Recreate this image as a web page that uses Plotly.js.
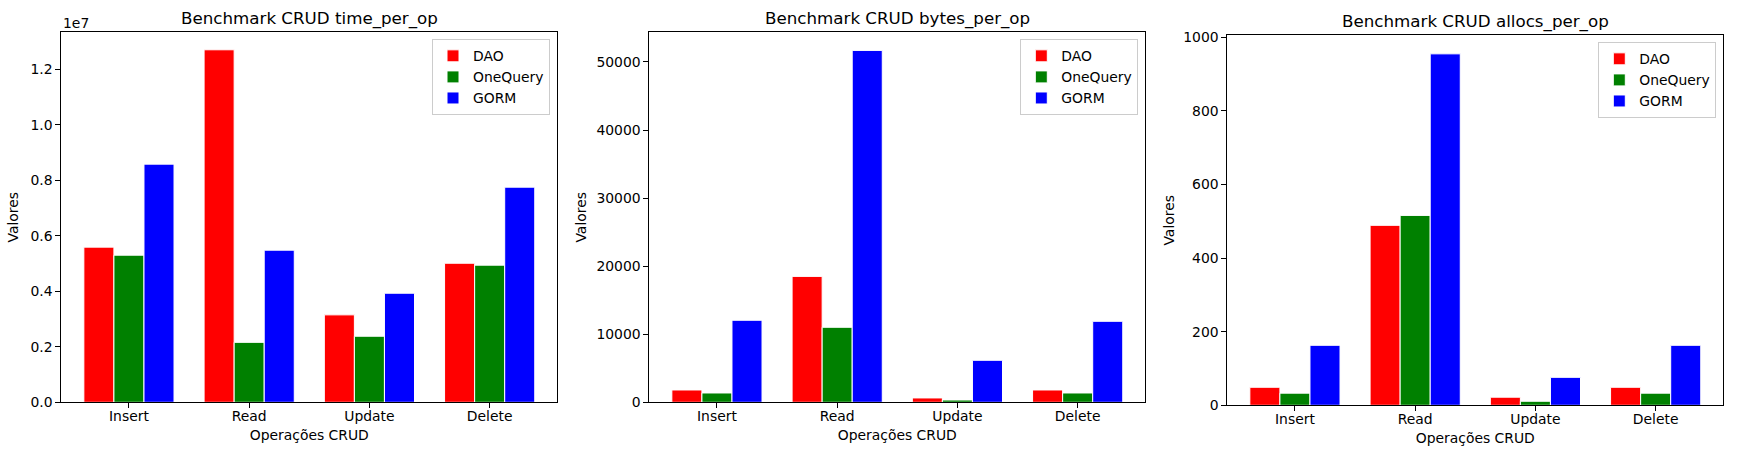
<!DOCTYPE html>
<html><head><meta charset="utf-8">
<script src="https://cdn.plot.ly/plotly-3.0.1.min.js"></script>
<style>body{margin:0;background:#fff}</style>
</head><body><div id="chart" style="width:1748px;height:454px"></div>
<script>
const operations = ["Insert", "Read", "Update", "Delete"];
const seriesNames = ["DAO", "OneQuery", "GORM"];
const seriesColors = ["red", "green", "blue"];

const timeDAO = [5590000, 12700000, 3150000, 5010000];
const timeOneQuery = [5300000, 2160000, 2380000, 4940000];
const timeGORM = [8580000, 5480000, 3930000, 7750000];

const bytesDAO = [1810, 18500, 640, 1810];
const bytesOneQuery = [1370, 11020, 340, 1370];
const bytesGORM = [12050, 51700, 6170, 11900];

const allocsDAO = [49, 489, 22, 49];
const allocsOneQuery = [33, 516, 11, 33];
const allocsGORM = [163, 955, 76, 163];

const timeTickVals = [0, 2e6, 4e6, 6e6, 8e6, 10e6, 12e6];
const timeTickText = ["0.0", "0.2", "0.4", "0.6", "0.8", "1.0", "1.2"];
const bytesTickVals = [0, 10000, 20000, 30000, 40000, 50000];
const allocsTickVals = [0, 200, 400, 600, 800, 1000];

const titles = ["Benchmark CRUD time_per_op", "Benchmark CRUD bytes_per_op", "Benchmark CRUD allocs_per_op"];
const xTitle = "Operações CRUD";
const yTitle = "Valores";

const FONT = "DejaVu Sans, sans-serif";
const W = 1748, H = 454;
const px = v => v / W;
const py = v => 1 - v / H;

const panels = [
  {data: [timeDAO, timeOneQuery, timeGORM], left: 61.3, right: 557.3, top: 32.3, bottom: 402.3, ymax: 13.33e6, standoff: 8, legRight: 550, titleY: 18.5},
  {data: [bytesDAO, bytesOneQuery, bytesGORM], left: 649.3, right: 1145.3, top: 32.3, bottom: 402.3, ymax: 54360, standoff: 6, legRight: 1138.3, titleY: 18.5},
  {data: [allocsDAO, allocsOneQuery, allocsGORM], left: 1227.3, right: 1723.3, top: 35.3, bottom: 405.3, ymax: 1005.4, standoff: 5, legRight: 1716.3, titleY: 21.5}
];

const traces = [];
const layout = {
  width: W, height: H,
  margin: {l: 0, r: 0, t: 0, b: 0},
  paper_bgcolor: "white", plot_bgcolor: "white",
  font: {family: FONT, size: 13.9, color: "black"},
  barmode: "group", bargap: 0.25, bargroupgap: 0,
  annotations: []
};

panels.forEach((p, i) => {
  const n = i === 0 ? "" : String(i + 1);
  p.data.forEach((vals, s) => {
    traces.push({
      type: "bar", x: operations, y: vals, name: seriesNames[s],
      xaxis: "x" + n, yaxis: "y" + n,
      legend: "legend" + n,
      marker: {color: seriesColors[s], line: {color: "white", width: 1}},
      hoverinfo: "x+y+name"
    });
  });
  const axBase = {
    showline: true, linecolor: "black", linewidth: 1, mirror: true,
    ticks: "outside", ticklen: 4.9, tickwidth: 1, tickcolor: "black",
    showgrid: false, zeroline: false, automargin: false,
    tickfont: {family: FONT, size: 13.9, color: "black"}
  };
  layout["xaxis" + n] = Object.assign({}, axBase, {
    domain: [px(p.left), px(p.right)], anchor: "y" + n,
    type: "category", range: [-0.5625, 3.5625],
    ticklabelstandoff: -4,
    title: {text: xTitle, font: {family: FONT, size: 13.9, color: "black"}, standoff: 7}
  });
  const yAx = Object.assign({}, axBase, {
    domain: [py(p.bottom), py(p.top)], anchor: "x" + n,
    range: [0, p.ymax],
    title: {text: yTitle, font: {family: FONT, size: 13.9, color: "black"}, standoff: p.standoff}
  });
  if (i === 0) { yAx.tickvals = timeTickVals; yAx.ticktext = timeTickText; }
  if (i === 1) { yAx.tickvals = bytesTickVals; yAx.tickformat = "d"; }
  if (i === 2) { yAx.tickvals = allocsTickVals; yAx.tickformat = "d"; }
  layout["yaxis" + n] = yAx;
  layout["legend" + n] = {
    x: px(p.legRight), y: py(p.top + 7), xanchor: "right", yanchor: "top",
    bgcolor: "rgba(255,255,255,0.8)", bordercolor: "#cccccc", borderwidth: 1,
    font: {family: FONT, size: 13.9, color: "black"}, tracegroupgap: 0,
    itemwidth: 30
  };
  layout.annotations.push({
    text: titles[i], xref: "paper", yref: "paper",
    x: px((p.left + p.right) / 2), y: py(p.titleY), xanchor: "center", yanchor: "middle",
    showarrow: false, font: {family: FONT, size: 16.7, color: "black"}
  });
});

layout.annotations.push({
  text: "1e7", xref: "paper", yref: "paper",
  x: px(61.3), y: py(23), xanchor: "left", yanchor: "middle",
  showarrow: false, font: {family: FONT, size: 13.9, color: "black"}
});

Plotly.newPlot("chart", traces, layout, {displayModeBar: false, staticPlot: true});
</script>
</body></html>
